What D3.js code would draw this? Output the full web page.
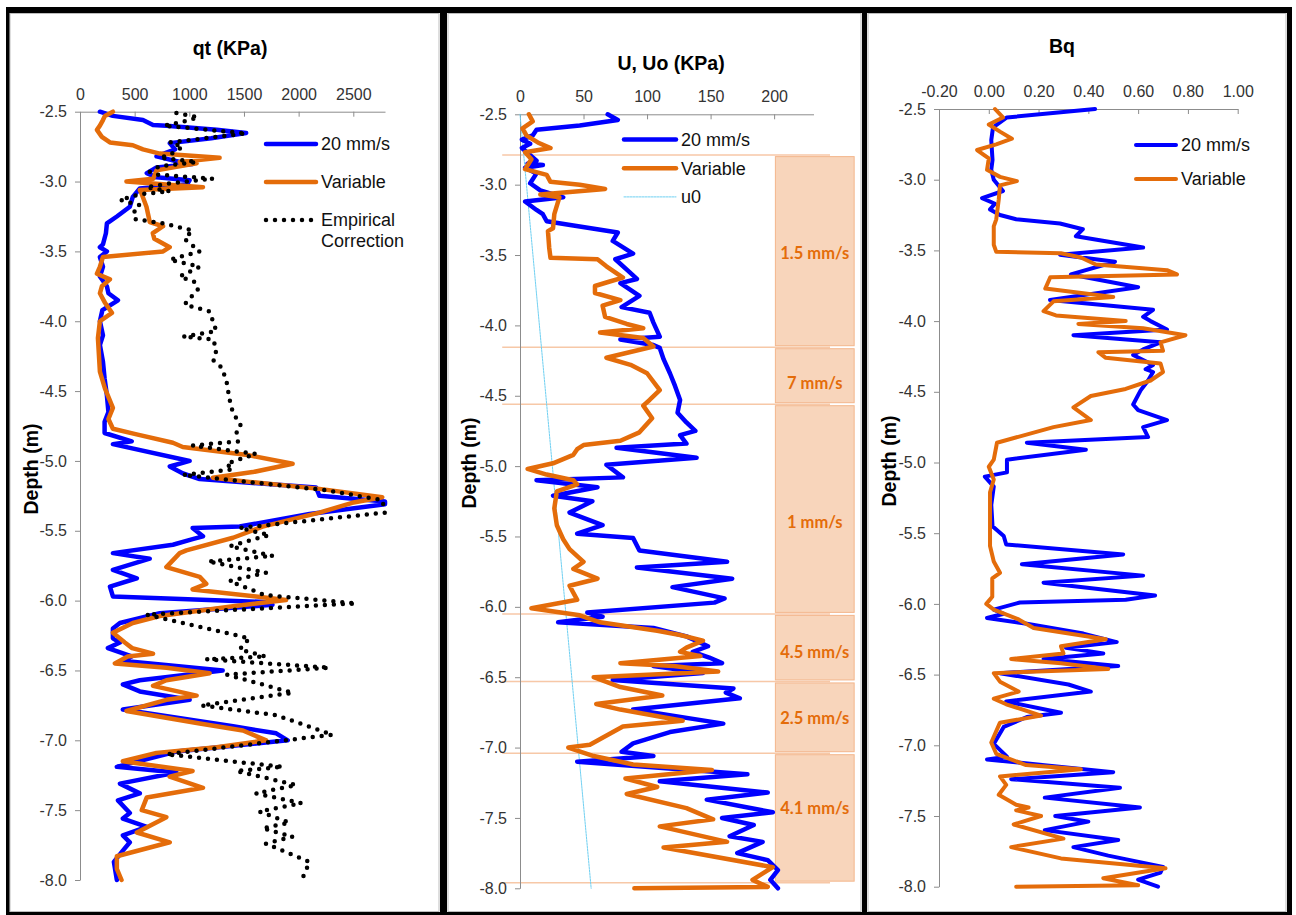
<!DOCTYPE html>
<html>
<head>
<meta charset="utf-8">
<script src="https://cdn.jsdelivr.net/npm/d3@7"></script>
<style>
body{margin:0;background:#fff}
svg{display:block;font-family:'Liberation Sans',Arial,sans-serif}
.axis .domain,.axis line{stroke:#8c8c8c}
.axis text{fill:#333;font-size:16px;font-family:'Liberation Sans',Arial,sans-serif}
.title{font-weight:bold;font-size:19.5px;text-anchor:middle}
.leg{font-size:18px;fill:#111}
.zone{font-family:Lato,'Open Sans',sans-serif;font-weight:bold;font-size:16.5px;fill:#e46c0a;text-anchor:middle}
</style>
</head>
<body>
<svg id="chart" width="1296" height="915"></svg>
<script>
// depth (m), value pairs
var qt20 = [[-2.50,182],[-2.53,300],[-2.56,576],[-2.595,668],[-2.60,791],[-2.63,1250],[-2.653,1520],[-2.69,1200],[-2.725,821],[-2.75,848],[-2.77,870],[-2.82,700],[-2.86,912],[-2.875,1030],[-2.90,700],[-2.94,611],[-2.97,700],[-2.99,1003],[-3.02,980],[-3.05,547],[-3.11,483],[-3.18,456],[-3.25,337],[-3.30,246],[-3.37,237],[-3.45,210],[-3.47,182],[-3.50,246],[-3.54,182],[-3.61,210],[-3.68,182],[-3.75,246],[-3.80,260],[-3.85,347],[-3.92,205],[-4.0,182],[-4.1,210],[-4.17,182],[-4.29,210],[-4.41,225],[-4.53,246],[-4.65,260],[-4.72,225],[-4.80,225],[-4.86,473],[-4.88,301],[-5.0,1003],[-5.04,821],[-5.09,942],[-5.13,1095],[-5.19,2160],[-5.25,2190],[-5.29,2790],[-5.31,2790],[-5.38,2100],[-5.47,1460],[-5.48,1030],[-5.54,1125],[-5.56,1030],[-5.60,850],[-5.66,301],[-5.70,638],[-5.78,301],[-5.84,520],[-5.90,274],[-5.97,301],[-6.01,1700],[-6.03,1760],[-6.09,730],[-6.16,365],[-6.20,301],[-6.27,301],[-6.30,365],[-6.34,255],[-6.40,473],[-6.43,383],[-6.50,1305],[-6.57,547],[-6.60,392],[-6.65,547],[-6.71,1003],[-6.78,392],[-6.90,1400],[-6.95,1795],[-7.0,1900],[-7.08,882],[-7.19,337],[-7.23,882],[-7.31,365],[-7.38,547],[-7.43,347],[-7.52,456],[-7.56,392],[-7.62,611],[-7.68,392],[-7.73,456],[-7.79,392],[-7.87,310],[-8.0,337]]
var qtVar = [[-2.50,301],[-2.53,228],[-2.56,210],[-2.60,182],[-2.63,155],[-2.68,200],[-2.72,274],[-2.74,483],[-2.77,576],[-2.80,730],[-2.83,1277],[-2.86,912],[-2.87,1067],[-2.92,700],[-2.98,670],[-3.0,425],[-3.04,1125],[-3.06,547],[-3.08,560],[-3.18,608],[-3.29,638],[-3.32,760],[-3.37,666],[-3.41,680],[-3.47,821],[-3.50,760],[-3.54,210],[-3.61,182],[-3.66,155],[-3.70,274],[-3.75,200],[-3.80,182],[-3.87,230],[-3.94,292],[-4.0,182],[-4.12,164],[-4.36,182],[-4.48,228],[-4.62,301],[-4.70,260],[-4.77,301],[-4.81,518],[-4.87,850],[-4.90,940],[-4.96,1550],[-5.02,1945],[-5.08,1580],[-5.12,1215],[-5.15,1550],[-5.20,2190],[-5.26,2765],[-5.30,2490],[-5.37,2190],[-5.47,1670],[-5.55,1400],[-5.64,973],[-5.66,912],[-5.76,790],[-5.83,1095],[-5.88,1155],[-5.92,1030],[-5.995,1885],[-6.04,1400],[-6.11,730],[-6.16,483],[-6.23,301],[-6.30,410],[-6.34,477],[-6.38,668],[-6.40,436],[-6.45,319],[-6.48,791],[-6.52,1186],[-6.57,790],[-6.61,668],[-6.68,1067],[-6.71,790],[-6.79,425],[-6.88,1095],[-6.93,1490],[-7.0,1703],[-7.05,1250],[-7.09,700],[-7.15,392],[-7.22,1030],[-7.26,820],[-7.34,1125],[-7.41,610],[-7.50,565],[-7.55,790],[-7.66,520],[-7.73,821],[-7.83,337],[-7.92,337],[-8.0,380]]
var qtEmp = [[-2.51,882],[-2.54,1080],[-2.57,950],[-2.60,767],[-2.655,1520],[-2.72,821],[-2.75,940],[-2.81,821],[-2.83,730],[-2.86,1067],[-2.89,730],[-2.93,638],[-2.95,700],[-2.98,1215],[-3.01,850],[-3.04,608],[-3.07,821],[-3.09,560],[-3.13,365],[-3.17,547],[-3.23,483],[-3.27,510],[-3.30,760],[-3.35,1030],[-3.41,955],[-3.50,1095],[-3.56,821],[-3.61,1095],[-3.68,912],[-3.72,1050],[-3.77,1080],[-3.88,957],[-3.93,1186],[-4.07,1247],[-4.11,942],[-4.13,1220],[-4.21,1247],[-4.28,1220],[-4.33,1293],[-4.42,1338],[-4.56,1368],[-4.66,1400],[-4.74,1470],[-4.78,1430],[-4.86,1445],[-4.89,1030],[-4.95,1610],[-5.02,1338],[-5.06,1400],[-5.10,942],[-5.21,2250],[-5.28,2765],[-5.37,2790],[-5.48,1460],[-5.53,1733],[-5.61,1370],[-5.68,1765],[-5.72,1170],[-5.80,1703],[-5.86,1368],[-5.96,1690],[-6.02,2525],[-6.10,608],[-6.27,1550],[-6.35,1460],[-6.40,1700],[-6.42,1155],[-6.48,2280],[-6.53,1345],[-6.66,1945],[-6.75,1110],[-6.82,1795],[-6.96,2310],[-7.10,791],[-7.19,1855],[-7.22,1430],[-7.32,1978],[-7.38,1610],[-7.45,2025],[-7.51,1640],[-7.59,1915],[-7.63,1670],[-7.69,1945],[-7.74,1700],[-7.87,2100],[-7.98,2040]]

var u20 = [[-2.50,69],[-2.54,77],[-2.58,47],[-2.61,13],[-2.65,10],[-2.68,1.5],[-2.71,8],[-2.74,1.5],[-2.83,13],[-2.85,6],[-2.86,18],[-2.88,4],[-2.92,13],[-2.99,8],[-3.04,16],[-3.09,34],[-3.12,4],[-3.18,13],[-3.21,18],[-3.26,21],[-3.29,42],[-3.34,77],[-3.40,73],[-3.49,89],[-3.53,75],[-3.62,86],[-3.67,92],[-3.70,79],[-3.79,94],[-3.87,80],[-3.91,102],[-3.98,105],[-4.08,110],[-4.10,79],[-4.14,105],[-4.16,110],[-4.24,113],[-4.34,118],[-4.43,122],[-4.53,126],[-4.62,124],[-4.69,131],[-4.75,138],[-4.78,126],[-4.84,131],[-4.87,76],[-4.94,139],[-4.99,68],[-5.08,81],[-5.10,13],[-5.15,61],[-5.21,26],[-5.25,57],[-5.33,39],[-5.42,65],[-5.48,45],[-5.51,89],[-5.60,94],[-5.68,163],[-5.72,92],[-5.80,167],[-5.86,120],[-5.94,161],[-5.97,153],[-6.04,53],[-6.07,65],[-6.11,30],[-6.15,105],[-6.21,131],[-6.28,148],[-6.32,136],[-6.36,149],[-6.40,159],[-6.42,105],[-6.47,144],[-6.52,73],[-6.58,168],[-6.61,162],[-6.65,173],[-6.73,89],[-6.83,160],[-6.89,118],[-6.97,89],[-7.03,80],[-7.06,105],[-7.10,45],[-7.19,179],[-7.24,110],[-7.32,195],[-7.37,147],[-7.46,199],[-7.50,159],[-7.55,184],[-7.63,165],[-7.67,191],[-7.75,171],[-7.80,195],[-7.87,203],[-7.94,197],[-8.0,203]]
var uVar = [[-2.50,7],[-2.55,10],[-2.60,2],[-2.65,5],[-2.70,14],[-2.74,24],[-2.77,4],[-2.82,9],[-2.89,4],[-2.93,21],[-2.98,24],[-3.00,47],[-3.03,67],[-3.07,16],[-3.09,31],[-3.21,27],[-3.31,26],[-3.33,22],[-3.45,23],[-3.52,24],[-3.53,61],[-3.58,68],[-3.66,81],[-3.69,70],[-3.72,59],[-3.77,59],[-3.82,79],[-3.86,65],[-3.94,67],[-3.99,84],[-4.02,97],[-4.05,63],[-4.09,97],[-4.15,105],[-4.23,68],[-4.28,87],[-4.34,100],[-4.46,110],[-4.53,102],[-4.57,97],[-4.66,104],[-4.76,94],[-4.82,79],[-4.85,50],[-4.88,45],[-4.92,42],[-4.98,26],[-5.02,6],[-5.06,21],[-5.10,42],[-5.13,45],[-5.18,29],[-5.30,27],[-5.42,29],[-5.52,34],[-5.59,39],[-5.68,50],[-5.73,42],[-5.80,61],[-5.85,39],[-5.95,45],[-6.01,9],[-6.06,47],[-6.11,63],[-6.17,108],[-6.20,126],[-6.24,144],[-6.29,131],[-6.32,126],[-6.35,142],[-6.40,79],[-6.42,121],[-6.46,156],[-6.50,58],[-6.57,79],[-6.63,112],[-6.69,60],[-6.73,79],[-6.81,128],[-6.85,81],[-6.90,71],[-6.98,55],[-7.00,38],[-7.06,58],[-7.12,89],[-7.16,151],[-7.22,83],[-7.28,108],[-7.33,84],[-7.43,131],[-7.51,152],[-7.56,110],[-7.67,163],[-7.71,113],[-7.85,199],[-7.94,183],[-7.99,195],[-8.0,90]]
var u0 = [[-2.5,0],[-8.0,56]]

var bq20 = [[-2.50,0.427],[-2.56,0.073],[-2.63,0.017],[-2.72,0.01],[-2.86,0.015],[-2.93,0.01],[-3.0,0.02],[-3.08,0.057],[-3.13,-0.027],[-3.17,0.025],[-3.21,0.005],[-3.25,0.045],[-3.28,0.11],[-3.31,0.286],[-3.35,0.378],[-3.40,0.35],[-3.48,0.62],[-3.53,0.286],[-3.58,0.507],[-3.67,0.33],[-3.76,0.60],[-3.85,0.246],[-3.92,0.66],[-3.97,0.62],[-4.0,0.65],[-4.06,0.716],[-4.10,0.34],[-4.15,0.69],[-4.20,0.62],[-4.24,0.58],[-4.31,0.66],[-4.34,0.63],[-4.36,0.66],[-4.42,0.64],[-4.49,0.61],[-4.59,0.58],[-4.63,0.60],[-4.70,0.716],[-4.75,0.62],[-4.82,0.64],[-4.86,0.153],[-4.91,0.39],[-4.98,0.073],[-5.07,0.073],[-5.10,-0.016],[-5.17,0.02],[-5.30,0.01],[-5.45,0.015],[-5.52,0.06],[-5.58,0.07],[-5.65,0.54],[-5.72,0.133],[-5.80,0.62],[-5.85,0.22],[-5.94,0.668],[-5.97,0.55],[-5.99,0.125],[-6.04,0.02],[-6.07,0.06],[-6.10,-0.007],[-6.14,0.153],[-6.21,0.38],[-6.27,0.514],[-6.31,0.31],[-6.35,0.46],[-6.39,0.22],[-6.44,0.52],[-6.49,0.045],[-6.57,0.32],[-6.62,0.41],[-6.69,0.07],[-6.77,0.29],[-6.80,0.153],[-6.87,0.06],[-6.99,0.02],[-7.08,0.073],[-7.10,-0.007],[-7.19,0.50],[-7.24,0.09],[-7.30,0.527],[-7.37,0.225],[-7.44,0.607],[-7.50,0.267],[-7.54,0.40],[-7.60,0.225],[-7.67,0.52],[-7.72,0.34],[-7.78,0.48],[-7.86,0.70],[-7.90,0.69],[-7.95,0.60],[-8.0,0.68]]
var bqVar = [[-2.50,0.025],[-2.56,0.057],[-2.61,0.0],[-2.66,0.045],[-2.71,0.093],[-2.75,0.03],[-2.79,-0.047],[-2.85,0.0],[-2.93,-0.007],[-2.98,0.045],[-3.01,0.113],[-3.04,0.045],[-3.14,0.04],[-3.28,0.03],[-3.33,0.02],[-3.46,0.02],[-3.51,0.03],[-3.52,0.29],[-3.55,0.37],[-3.60,0.43],[-3.64,0.716],[-3.67,0.756],[-3.69,0.247],[-3.77,0.227],[-3.83,0.50],[-3.86,0.26],[-3.93,0.22],[-3.96,0.27],[-4.0,0.55],[-4.02,0.36],[-4.05,0.62],[-4.10,0.79],[-4.15,0.69],[-4.21,0.70],[-4.22,0.44],[-4.26,0.47],[-4.30,0.69],[-4.36,0.70],[-4.42,0.65],[-4.48,0.55],[-4.53,0.41],[-4.61,0.34],[-4.70,0.41],[-4.75,0.26],[-4.86,0.033],[-4.98,0.02],[-5.03,0.0],[-5.12,0.02],[-5.21,0.005],[-5.59,0.005],[-5.70,0.02],[-5.78,0.045],[-5.82,0.014],[-5.95,0.014],[-6.0,-0.01],[-6.04,0.02],[-6.11,0.12],[-6.17,0.18],[-6.25,0.47],[-6.30,0.29],[-6.35,0.30],[-6.39,0.09],[-6.42,0.29],[-6.46,0.48],[-6.49,0.02],[-6.55,0.045],[-6.62,0.12],[-6.67,0.02],[-6.71,0.07],[-6.79,0.21],[-6.84,0.045],[-6.98,0.01],[-7.06,0.03],[-7.14,0.15],[-7.17,0.37],[-7.22,0.045],[-7.28,0.07],[-7.35,0.04],[-7.42,0.11],[-7.44,0.16],[-7.46,0.11],[-7.50,0.21],[-7.56,0.10],[-7.66,0.30],[-7.72,0.09],[-7.80,0.29],[-7.87,0.71],[-7.94,0.46],[-7.99,0.60],[-8.0,0.11]]

// test speed zones in the U panel
var zoneBounds = [-2.79, -4.155, -4.56, -6.05, -6.53, -7.04, -7.96]
var zoneLabels = ['1.5 mm/s', '7 mm/s', '1 mm/s', '4.5 mm/s', '2.5 mm/s', '4.1 mm/s']
var zoneLabelDepth = [-3.49, -4.41, -5.40, -6.32, -6.79, -7.43]

var depthTicks = [-2.5, -3.0, -3.5, -4.0, -4.5, -5.0, -5.5, -6.0, -6.5, -7.0, -7.5, -8.0]
var qtTicks = [0, 500, 1000, 1500, 2000, 2500]
var uTicks = [0, 50, 100, 150, 200]
var bqTicks = [-0.2, 0, 0.2, 0.4, 0.6, 0.8, 1.0]

var blue = '#0000ff', orange = '#e46c0a'

var svg = d3.select('#chart')

// frame: thin grey chart borders, thick black separators
;[[10, 439], [448, 861], [868, 1286]].forEach(([a, b]) => {
  svg.append('rect').attr('x', a).attr('y', 13.5).attr('width', b - a).attr('height', 898)
    .attr('fill', 'none').attr('stroke', '#bdbdbd')
})
;[[6, 7, 1286, 6], [6, 7, 3.5, 908], [440, 7, 7, 908], [862, 7, 5, 908],
  [1287, 7, 5, 908], [6, 912, 1286, 3]].forEach(([x, y, w, h]) => {
  svg.append('rect').attr('x', x).attr('y', y).attr('width', w).attr('height', h).attr('fill', '#000')
})

function panel(o){
  var x = d3.scaleLinear().domain(o.xDomain).range(o.xRange)
  var y = d3.scaleLinear().domain([-2.5, -8]).range(o.yRange)
  var g = svg.append('g')

  g.append('g').attr('class', 'axis').attr('transform', `translate(0,${o.yRange[0]})`)
    .call(d3.axisTop(x).tickValues(o.ticks).tickSize(-5).tickSizeOuter(0).tickPadding(12)
      .tickFormat(o.fmt))
  g.append('g').attr('class', 'axis').attr('transform', `translate(${o.xRange[0]},0)`)
    .call(d3.axisLeft(y).tickValues(depthTicks).tickSize(5).tickSizeOuter(0).tickPadding(8)
      .tickFormat(d => d.toFixed(1)))
  g.selectAll('.axis').attr('font-size', null).attr('font-family', null)

  g.append('text').attr('class', 'title').attr('x', o.titleX).attr('y', o.titleY)
    .attr('dy', '.35em').text(o.title)
  g.append('text').attr('class', 'title')
    .attr('transform', `translate(${o.depthX},${o.depthY}) rotate(-90)`)
    .attr('dy', '.35em').text('Depth (m)')

  var line = d3.line().x(d => x(d[1])).y(d => y(d[0]))
  return {g, x, y, line}
}

function series(p, data, st){
  return p.g.append('path').datum(data).attr('d', p.line)
    .attr('fill', 'none').attr('stroke', st.color).attr('stroke-width', st.w)
    .attr('stroke-linejoin', 'round').attr('stroke-linecap', 'round')
    .attr('stroke-dasharray', st.dash || null)
}

function legend(p, items, x0, x1, y0, dy){
  items.forEach((d, i) => {
    var y = y0 + i*dy
    p.g.append('line').attr('x1', x0).attr('x2', x1).attr('y1', y).attr('y2', y)
      .attr('stroke', d.color).attr('stroke-width', d.w)
      .attr('stroke-linecap', 'round').attr('stroke-dasharray', d.dash || null)
    d.label.forEach((t, j) => p.g.append('text').attr('class', 'leg')
      .attr('x', x1 + 5).attr('y', y + j*21).attr('dy', '.35em').text(t))
  })
}

var s20 = {color: blue, w: 4.5, label: ['20 mm/s']}
var sVar = {color: orange, w: 4.5, label: ['Variable']}
var sEmp = {color: '#000', w: 4.5, dash: '0 9', label: ['Empirical', 'Correction']}
var sU0 = {color: '#6fd0f2', w: 1, dash: '2 1', label: ['u0']}

// qt
var p1 = panel({xDomain: [0, 2790], xRange: [80, 385], yRange: [111.7, 880], ticks: qtTicks,
  fmt: d => d, title: 'qt (KPa)', titleX: 230, titleY: 48, depthX: 31, depthY: 469})
series(p1, qt20, s20)
series(p1, qtVar, sVar)
series(p1, qtEmp, sEmp)
legend(p1, [s20, sVar, sEmp], 266, 316, 144, 38)

// U, Uo
var p2 = panel({xDomain: [0, 231], xRange: [520, 813.5], yRange: [114.3, 888.3], ticks: uTicks,
  fmt: d => d, title: 'U, Uo (KPa)', titleX: 671, titleY: 63, depthX: 469, depthY: 463})
var zg = p2.g.insert('g', ':first-child')
zoneLabels.forEach((t, i) => {
  var top = p2.y(zoneBounds[i]) + 1.5, bot = p2.y(zoneBounds[i + 1]) - 1.5
  zg.append('rect').attr('x', p2.x(201)).attr('y', top)
    .attr('width', p2.x(263) - p2.x(201)).attr('height', bot - top)
    .attr('fill', '#f8d5bb').attr('stroke', '#f3b68c').attr('stroke-width', 1)
  zg.append('text').attr('class', 'zone').attr('x', (p2.x(201) + p2.x(263))/2)
    .attr('y', p2.y(zoneLabelDepth[i])).attr('dy', '.35em').text(t)
})
zoneBounds.forEach(d => {
  zg.append('line').attr('x1', p2.x(-14)).attr('x2', p2.x(244))
    .attr('y1', p2.y(d)).attr('y2', p2.y(d))
    .attr('stroke', '#f4b183').attr('stroke-width', 1.5).attr('opacity', .7)
})
series(p2, u0, sU0)
series(p2, u20, s20)
series(p2, uVar, sVar)
legend(p2, [s20, sVar, sU0], 624, 676, 139.5, 28.7)

// Bq
var p3 = panel({xDomain: [-0.2, 1.0], xRange: [939, 1237.7], yRange: [109, 886.7], ticks: bqTicks,
  fmt: d => d.toFixed(2), title: 'Bq', titleX: 1062, titleY: 46, depthX: 889, depthY: 461})
var s20b = Object.assign({}, s20, {w: 4}), sVarb = Object.assign({}, sVar, {w: 4})
series(p3, bq20, s20b)
series(p3, bqVar, sVarb)
legend(p3, [s20b, sVarb], 1136, 1176, 145, 34)
</script>
</body>
</html>
